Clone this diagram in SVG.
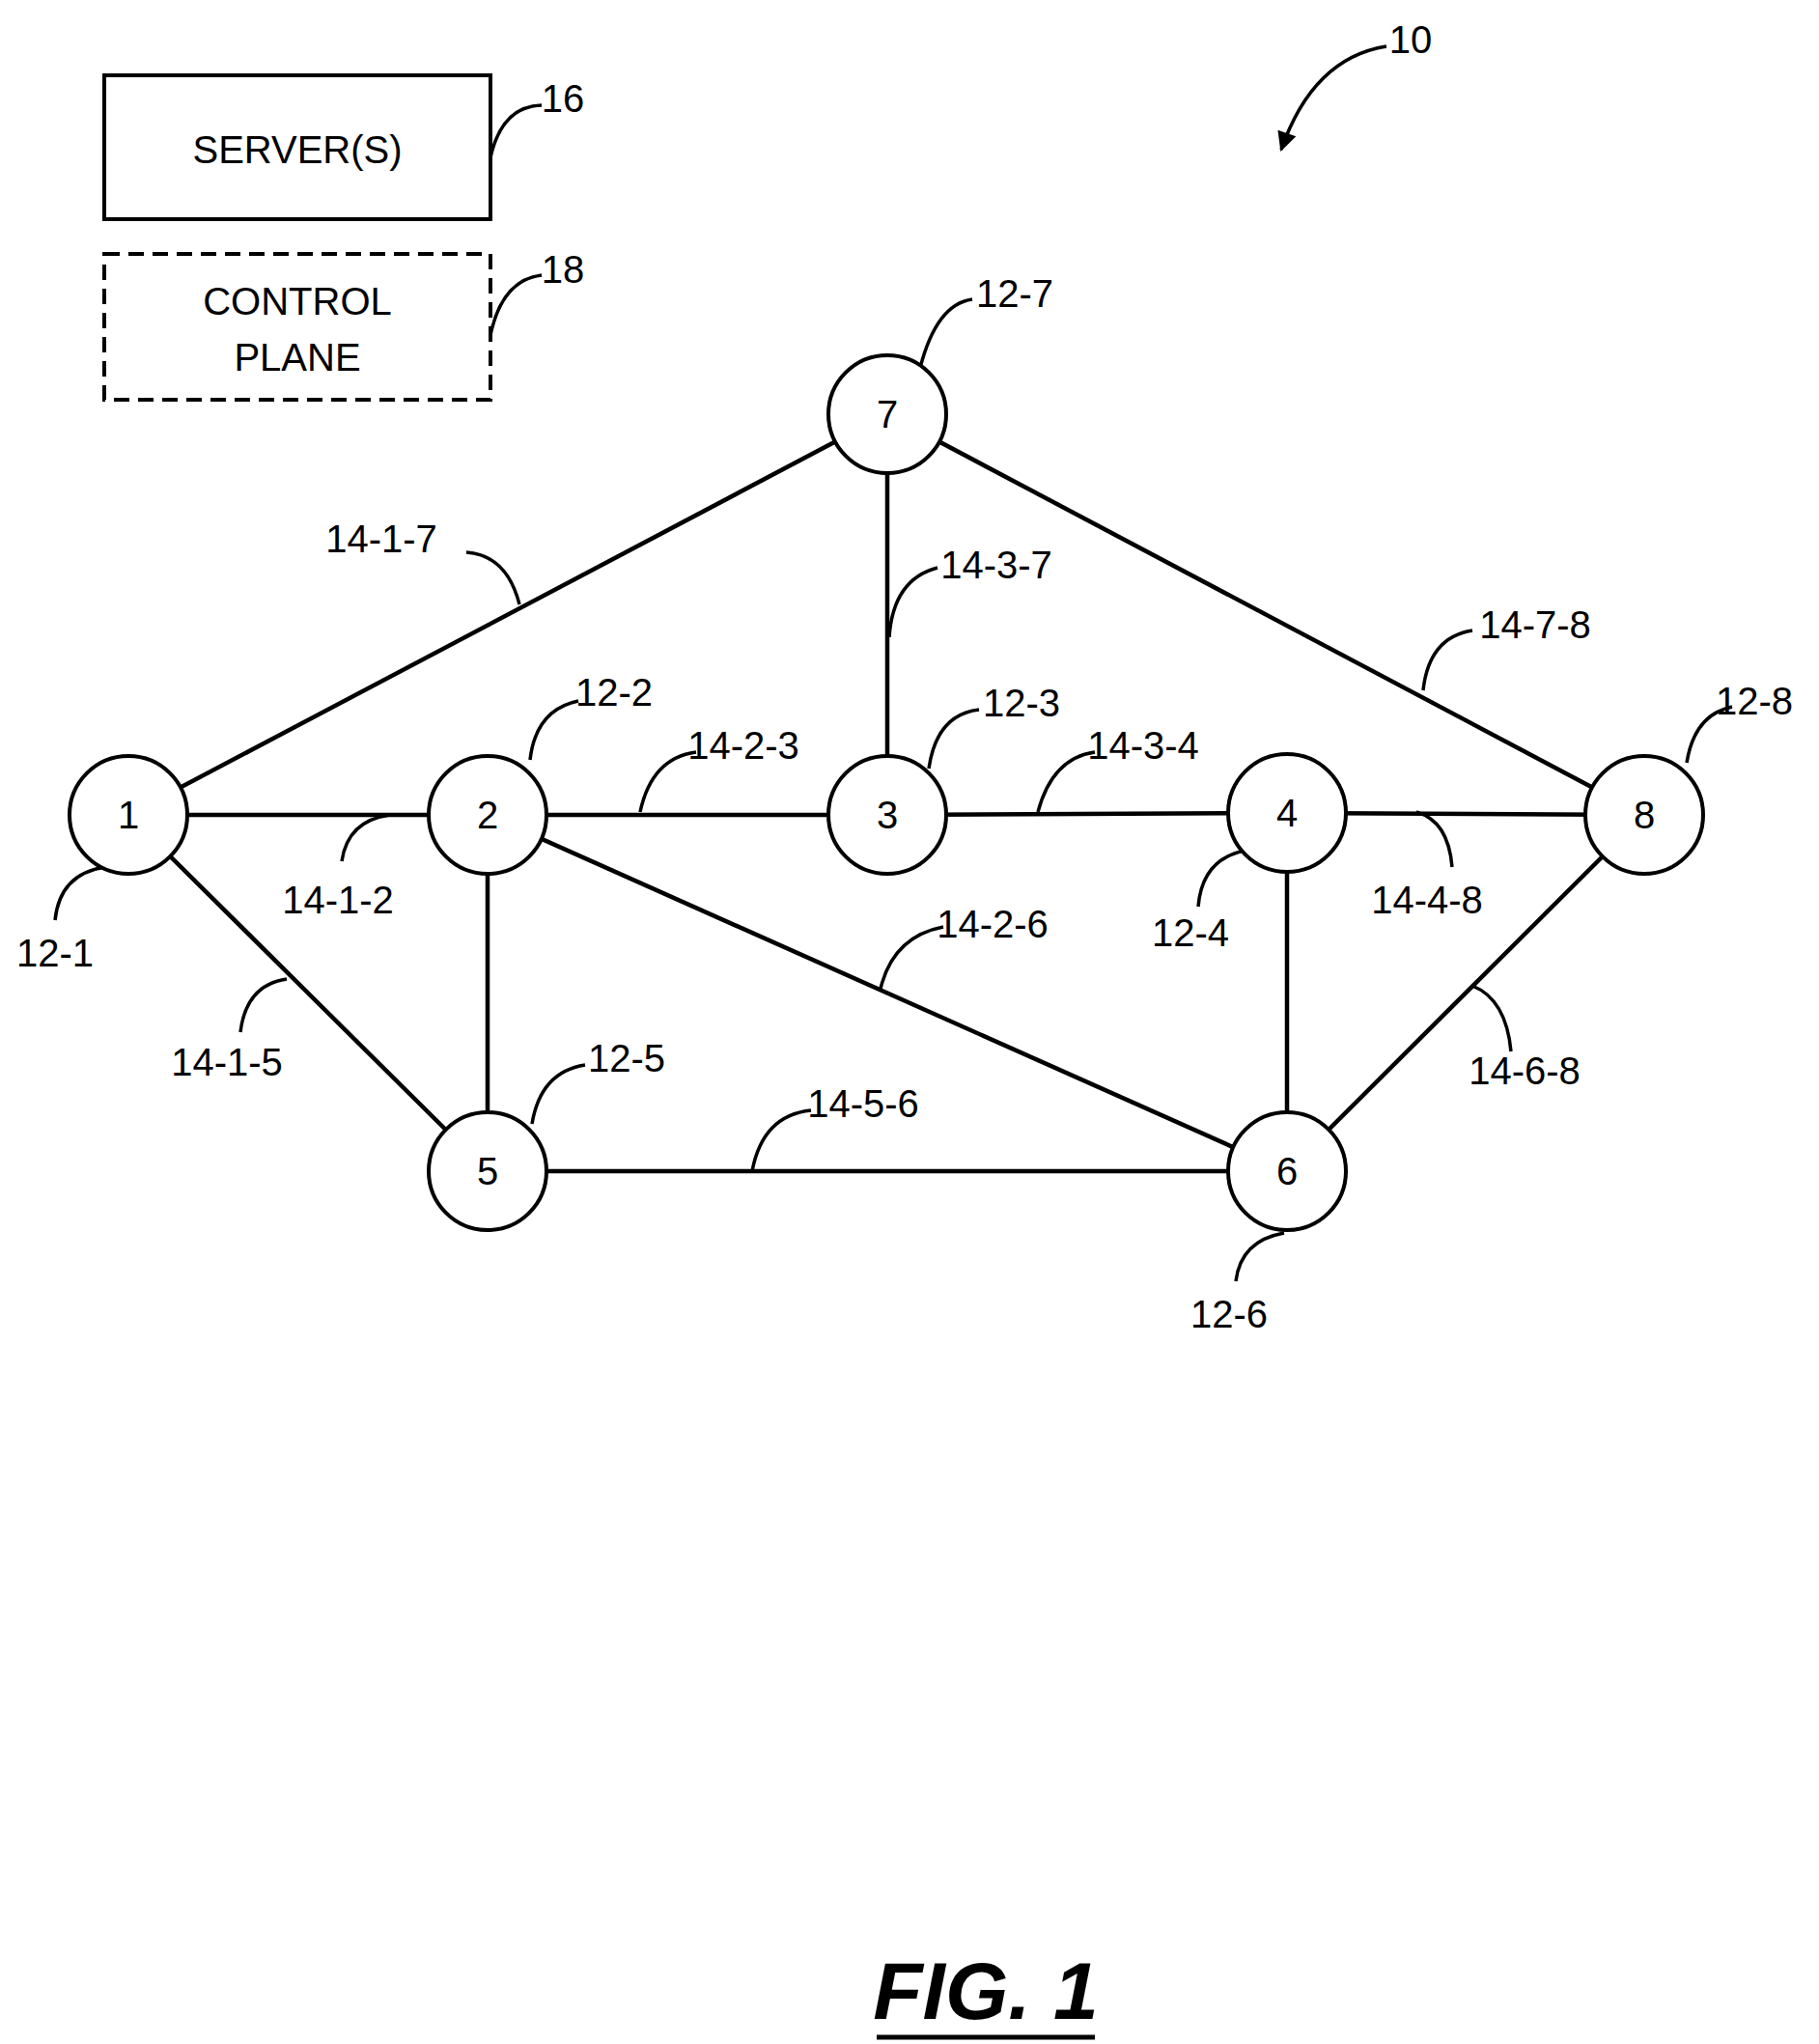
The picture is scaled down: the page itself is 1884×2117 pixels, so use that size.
<svg xmlns="http://www.w3.org/2000/svg" width="1884" height="2117" viewBox="0 0 1884 2117">
<style>
.e{stroke:#000;stroke-width:4.5;fill:none}
.l{stroke:#000;stroke-width:3.5;fill:none}
.n{fill:#fff;stroke:#000;stroke-width:4}
text{font-family:"Liberation Sans",Arial,sans-serif;font-size:40px;fill:#000}
.c{text-anchor:middle;dominant-baseline:central}
</style>
<defs><marker id="ah" viewBox="0 0 10 10" refX="9" refY="5" markerWidth="24" markerHeight="20" orient="auto" markerUnits="userSpaceOnUse"><path d="M0,0L10,5L0,10z" fill="#000"/></marker></defs>
<g id="connectors">
<line class="e" x1="133" y1="844" x2="919" y2="429"/>
<line class="e" x1="133" y1="844" x2="505" y2="844"/>
<line class="e" x1="133" y1="844" x2="505" y2="1213"/>
<line class="e" x1="505" y1="844" x2="919" y2="844"/>
<line class="e" x1="505" y1="844" x2="505" y2="1213"/>
<line class="e" x1="505" y1="844" x2="1333" y2="1213"/>
<line class="e" x1="919" y1="844" x2="1333" y2="842"/>
<line class="e" x1="919" y1="429" x2="919" y2="844"/>
<line class="e" x1="919" y1="429" x2="1703" y2="844"/>
<line class="e" x1="1333" y1="842" x2="1703" y2="844"/>
<line class="e" x1="1333" y1="842" x2="1333" y2="1213"/>
<line class="e" x1="505" y1="1213" x2="1333" y2="1213"/>
<line class="e" x1="1333" y1="1213" x2="1703" y2="844"/>
</g>
<g id="leaders">
<path class="l" d="M508,163 Q520,110 561,109"/>
<path class="l" d="M508,347 Q520,290 561,285"/>
<path class="l" d="M1436,48 Q1360,60 1327,155" marker-end="url(#ah)"/>
<path class="l" d="M953,381 Q970,315 1007,310"/>
<path class="l" d="M483,572 Q525,575 538,626"/>
<path class="l" d="M971,588 Q925,600 921,660"/>
<path class="l" d="M1525,653 Q1480,660 1474,715"/>
<path class="l" d="M1794,732 Q1755,740 1747,790"/>
<path class="l" d="M599,726 Q555,735 549,787"/>
<path class="l" d="M721,779 Q675,785 663,841"/>
<path class="l" d="M1014,735 Q970,740 962,796"/>
<path class="l" d="M1134,779 Q1090,785 1075,841"/>
<path class="l" d="M404,844 Q360,850 354,892"/>
<path class="l" d="M109,898 Q62,905 57,953"/>
<path class="l" d="M1289,881 Q1245,890 1241,939"/>
<path class="l" d="M1467,841 Q1500,850 1504,898"/>
<path class="l" d="M977,960 Q925,970 912,1024"/>
<path class="l" d="M297,1014 Q255,1020 249,1069"/>
<path class="l" d="M606,1103 Q560,1110 551,1164"/>
<path class="l" d="M840,1150 Q790,1155 779,1213"/>
<path class="l" d="M1525,1021 Q1560,1035 1565,1089"/>
<path class="l" d="M1330,1277 Q1285,1285 1280,1327"/>
</g>
<g id="server"><rect x="108" y="78" width="400" height="149" fill="none" stroke="#000" stroke-width="4"/><text class="c" x="308" y="155">SERVER(S)</text></g>
<g id="control"><rect x="108" y="263" width="400" height="151" fill="none" stroke="#000" stroke-width="4" stroke-dasharray="16,9"/><text class="c" x="308" y="312">CONTROL</text><text class="c" x="308" y="370">PLANE</text></g>
<g id="n1"><circle class="n" cx="133" cy="844" r="61"/><text class="c" x="133" y="844">1</text></g>
<g id="n2"><circle class="n" cx="505" cy="844" r="61"/><text class="c" x="505" y="844">2</text></g>
<g id="n3"><circle class="n" cx="919" cy="844" r="61"/><text class="c" x="919" y="844">3</text></g>
<g id="n4"><circle class="n" cx="1333" cy="842" r="61"/><text class="c" x="1333" y="842">4</text></g>
<g id="n5"><circle class="n" cx="505" cy="1213" r="61"/><text class="c" x="505" y="1213">5</text></g>
<g id="n6"><circle class="n" cx="1333" cy="1213" r="61"/><text class="c" x="1333" y="1213">6</text></g>
<g id="n7"><circle class="n" cx="919" cy="429" r="61"/><text class="c" x="919" y="429">7</text></g>
<g id="n8"><circle class="n" cx="1703" cy="844" r="61"/><text class="c" x="1703" y="844">8</text></g>
<g id="labels">
<text class="c" x="583" y="102">16</text>
<text class="c" x="583" y="279">18</text>
<text class="c" x="1461" y="41">10</text>
<text class="c" x="1051" y="304">12-7</text>
<text class="c" x="395" y="558">14-1-7</text>
<text class="c" x="1032" y="585">14-3-7</text>
<text class="c" x="1590" y="647">14-7-8</text>
<text class="c" x="1817" y="726">12-8</text>
<text class="c" x="636" y="717">12-2</text>
<text class="c" x="770" y="772">14-2-3</text>
<text class="c" x="1058" y="728">12-3</text>
<text class="c" x="1184" y="772">14-3-4</text>
<text class="c" x="350" y="932">14-1-2</text>
<text class="c" x="57" y="987">12-1</text>
<text class="c" x="1233" y="966">12-4</text>
<text class="c" x="1478" y="932">14-4-8</text>
<text class="c" x="1028" y="957">14-2-6</text>
<text class="c" x="235" y="1100">14-1-5</text>
<text class="c" x="649" y="1096">12-5</text>
<text class="c" x="894" y="1143">14-5-6</text>
<text class="c" x="1579" y="1109">14-6-8</text>
<text class="c" x="1273" y="1361">12-6</text>
</g>
<g id="title"><text class="c" x="1021" y="2062" style="font-size:84px;font-weight:bold;font-style:italic">FIG. 1</text><line x1="908" y1="2110" x2="1134" y2="2110" stroke="#000" stroke-width="5"/></g>
</svg>
